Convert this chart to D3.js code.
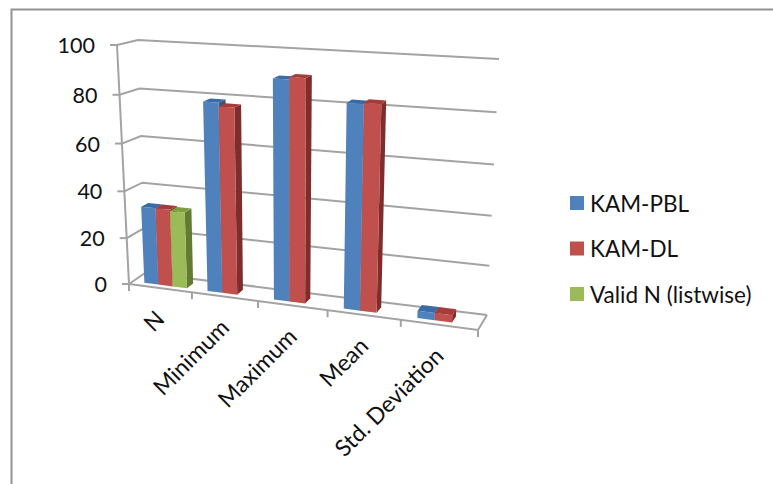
<!DOCTYPE html>
<html>
<head>
<meta charset="utf-8">
<script src="https://cdn.jsdelivr.net/npm/d3@7"></script>
<style>
  html, body { margin: 0; padding: 0; background: #fff; }
  svg { display: block; }
  text { font-family: Lato, "Open Sans", sans-serif; fill: #111; }
</style>
</head>
<body>
<svg id="chart" width="773" height="484"></svg>
<script>
const categories = ["N", "Minimum", "Maximum", "Mean", "Std. Deviation"];
const seriesNames = ["KAM-PBL", "KAM-DL", "Valid N (listwise)"];
const kamPbl = [33, 79, 90, 82.5, 3];
const kamDl = [33, 77.5, 91, 83, 3];
const validN = [32.5, null, null, null, null];
const seriesValues = [kamPbl, kamDl, validN];
const valueTicks = [0, 20, 40, 60, 80, 100];

const faceColours = [
  { front: "#4F81BD", top: "#3B6BA6", side: "#34587F" },
  { front: "#C0504D", top: "#A63C39", side: "#7F2D2B" },
  { front: "#9BBB59", top: "#7F9E3F", side: "#627A32" }
];
const gridColour = "#A3A3A3";

const svg = d3.select("#chart");

// Corners of the 3D plot box, as [x, y] on the page:
// f = front, b = back, l = left, r = right, 0 = floor, 1 = ceiling.
const box = {
  fl0: [129, 284], fr0: [478, 330], bl0: [145, 273], br0: [487, 315],
  fl1: [117, 45], fr1: [491, 68], bl1: [138, 40], br1: [499, 59]
};

const valueFraction = d3.scaleLinear().domain([0, 100]).range([0, 1]);
const perspective = (t, k) => t * k / (1 + t * (k - 1));
const mix = (a, b, t) => [a[0] + (b[0] - a[0]) * t, a[1] + (b[1] - a[1]) * t];

// Maps (along the category axis, depth, value) to page coordinates.
function project(u, depth, value) {
  const pu = perspective(u, 0.88);
  const pv = perspective(valueFraction(value), 0.95);
  const floor = mix(mix(box.fl0, box.fr0, pu), mix(box.bl0, box.br0, pu), depth);
  const ceil = mix(mix(box.fl1, box.fr1, pu), mix(box.bl1, box.br1, pu), depth);
  return mix(floor, ceil, pv);
}

const polyline = d3.line();
const categoryScale = d3.scaleBand().domain(categories).range([0.005, 1.005])
  .paddingInner(0.32).paddingOuter(0.16);
const seriesScale = d3.scaleBand().domain(d3.range(seriesNames.length))
  .range([0, categoryScale.bandwidth()]);
const tickStep = categoryScale.step();

svg.append("path")
  .attr("d", "M11.5,484V9.5H773")
  .attr("fill", "none").attr("stroke", "#939393").attr("stroke-width", 2);

// Walls, floor and axes
const axes = svg.append("g").attr("fill", "none")
  .attr("stroke", gridColour).attr("stroke-width", 2);

valueTicks.forEach(v => {
  axes.append("path").attr("d", polyline([project(0, 0, v), project(0, 1, v), project(1, 1, v)]));
  const p = project(0, 0, v);
  axes.append("path").attr("d", polyline([[p[0] - 7, p[1]], p]));
  svg.append("text").attr("x", p[0] - 22).attr("y", p[1])
    .attr("text-anchor", "end").attr("dominant-baseline", "central")
    .attr("font-size", 21.5).text(v);
});
axes.append("path").attr("d", polyline([project(0, 0, 0), project(0, 0, 100)]));
axes.append("path").attr("d", polyline([project(0, 0, 0), project(1, 0, 0), project(1, 1, 0)]));

d3.range(categories.length + 1).forEach(i => {
  const p = project(i * tickStep, 0, 0);
  axes.append("path").attr("d", polyline([p, [p[0], p[1] + 7]]));
});

// Bars, drawn left to right with side, top and front faces
const bars = svg.append("g");
const depthFront = 0.25, depthBack = 0.66;
categories.forEach((cat, c) => {
  seriesValues.forEach((values, s) => {
    const v = values[c];
    if (v === null) return;
    const u0 = categoryScale(cat) + seriesScale(s);
    const u1 = u0 + seriesScale.bandwidth();
    const colours = faceColours[s];
    const face = (pts, fill) => bars.append("path")
      .attr("d", polyline(pts) + "Z").attr("fill", fill);
    face([project(u1, depthFront, 0), project(u1, depthBack, 0),
          project(u1, depthBack, v), project(u1, depthFront, v)], colours.side);
    face([project(u0, depthFront, v), project(u1, depthFront, v),
          project(u1, depthBack, v), project(u0, depthBack, v)], colours.top);
    face([project(u0, depthFront, 0), project(u1, depthFront, 0),
          project(u1, depthFront, v), project(u0, depthFront, v)], colours.front);
  });
});

// Category labels, rotated along the diagonal
categories.forEach(cat => {
  const mid = categoryScale(cat) + categoryScale.bandwidth() / 2;
  const p = project(mid, 0, 0);
  svg.append("text")
    .attr("transform", `translate(${p[0] - 2},${p[1] + 26}) rotate(-45)`)
    .attr("text-anchor", "end").attr("dominant-baseline", "central")
    .attr("font-size", 23).text(cat);
});

// Legend
const legendRow = d3.scalePoint().domain(seriesNames).range([203, 294]);
seriesNames.forEach((name, s) => {
  const y = legendRow(name);
  svg.append("rect").attr("x", 570).attr("y", y - 7).attr("width", 14).attr("height", 14)
    .attr("fill", faceColours[s].front);
  svg.append("text").attr("x", 590).attr("y", y).attr("dominant-baseline", "central")
    .attr("font-size", 22.5).text(name);
});
</script>
</body>
</html>
